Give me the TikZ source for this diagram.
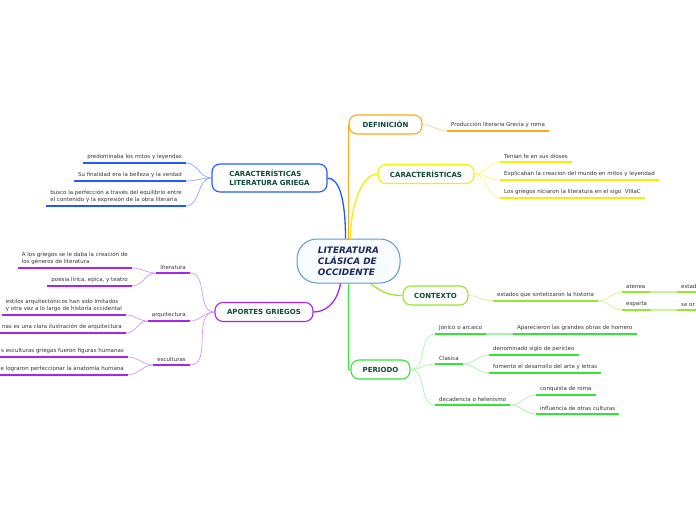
\documentclass[tikz,border=0pt]{standalone}
\usepackage{fontspec}
\setmainfont{DejaVu Sans}
\usepackage{tikz}
\usetikzlibrary{positioning}
\definecolor{azulc}{HTML}{5B9BD5}
\definecolor{fondoc}{HTML}{F8FBFF}
\definecolor{navy}{HTML}{1B2A5C}
\definecolor{verdeosc}{HTML}{0D4A3A}
\definecolor{gris}{HTML}{333333}
\definecolor{azul}{HTML}{1F5BFF}
\definecolor{azulcl}{HTML}{8FA8FF}
\definecolor{naranja}{HTML}{FFA71A}
\definecolor{naranjacl}{HTML}{FFD08A}
\definecolor{amarillo}{HTML}{F2F200}
\definecolor{amarillocl}{HTML}{F7F77A}
\definecolor{lima}{HTML}{99E62E}
\definecolor{limacl}{HTML}{CCF29A}
\definecolor{verde}{HTML}{33E633}
\definecolor{verdecl}{HTML}{A8F2A8}
\definecolor{morado}{HTML}{A626F0}
\definecolor{moradocl}{HTML}{D098FF}

\begin{document}
\begin{tikzpicture}[x=1pt,y=-1pt,
  central/.style={draw=azulc,fill=fondoc,line width=1pt,rounded corners=20pt,minimum width=103pt,minimum height=44pt,align=left,text=navy,font=\fontsize{8.9}{11}\selectfont\bfseries\itshape},
  tema/.style={draw=#1,fill=white,line width=1.1pt,rounded corners=8pt,minimum height=19pt,text=verdeosc,font=\fontsize{7}{8.5}\selectfont\bfseries},
  hoja/.style={inner xsep=4pt,inner ysep=3pt,align=left,text=gris,font=\fontsize{5.5}{7}\selectfont},
  tronco/.style={draw=#1,line width=1.3pt},
  rama/.style={draw=#1,line width=0.7pt},
  sub/.style={draw=#1,line width=1.6pt}]
  \useasboundingbox (0,0) rectangle (696,520);
  \clip (0,0) rectangle (696,520);

  % nodos principales
  \node[central] (lit) at (348.5,261) {LITERATURA\\CLÁSICA DE\\OCCIDENTE};
  \node[tema=azul,minimum width=115pt,minimum height=28pt,align=left] (carlit) at (269.5,178) {CARACTERÍSTICAS\\LITERATURA GRIEGA};
  \node[tema=naranja,minimum width=73pt] (defin) at (385.5,124.5) {DEFINICIÓN};
  \node[tema=amarillo,minimum width=96pt] (carac) at (426,174) {CARACTERÍSTICAS};
  \node[tema=lima,minimum width=65pt] (contexto) at (435.5,295.5) {CONTEXTO};
  \node[tema=verde,minimum width=59pt] (periodo) at (380.5,369.5) {PERIODO};
  \node[tema=morado,minimum width=98pt] (aportes) at (264,312) {APORTES GRIEGOS};

  % ramas desde el centro
  \draw[tronco=azul] (carlit.east) .. controls +(12,0) and +(0,-38) .. ([xshift=-3pt]lit.north);
  \draw[tronco=naranja] (lit.north) |- (defin.west);
  \draw[tronco=amarillo] ([xshift=2pt]lit.north) .. controls +(0,-32) and +(-16,0) .. (carac.west);
  \draw[tronco=lima] ([xshift=22pt]lit.south) .. controls +(10,8) and +(-14,0) .. (contexto.west);
  \draw[tronco=verde] (lit.south) |- (periodo.west);
  \draw[tronco=morado] ([xshift=-8pt]lit.south) .. controls +(-4,22) and +(10,0) .. (aportes.east);

  % caracteristicas literatura griega
  \node[hoja,anchor=south east] (b1) at (186,163) {predominaba los mitos y leyendas};
  \node[hoja,anchor=south east] (b2) at (186,181) {Su finalidad era la belleza y la verdad};
  \node[hoja,anchor=south east] (b3) at (186,206) {busco la perfección a través del equilibrio entre\\el contenido y la expresión de la obra literaria};
  \foreach \n in {b1,b2,b3} {
    \draw[rama=azulcl] (carlit.west) to[out=180,in=0] (\n.south east);
    \draw[sub=azul] (\n.south west) -- (\n.south east);
  }

  % definicion
  \node[hoja,anchor=south west] (d1) at (447,131) {Producción literaria Grecia y roma};
  \draw[rama=naranjacl] (defin.east) to[out=0,in=180] (d1.south west);
  \draw[sub=naranja] (d1.south west) -- (d1.south east);

  % caracteristicas
  \node[hoja,anchor=south west] (y1) at (500,162) {Tenian fe en sus dioses};
  \node[hoja,anchor=south west] (y2) at (500,180) {Explicaban la creacion del mundo en mitos y leyendad};
  \node[hoja,anchor=south west] (y3) at (500,198) {Los griegos niciaron la literatura en el sigo\ \ VIIIaC};
  \foreach \n in {y1,y2,y3} {
    \draw[rama=amarillocl] (carac.east) to[out=0,in=180] (\n.south west);
    \draw[sub=amarillo] (\n.south west) -- (\n.south east);
  }

  % contexto
  \node[hoja,anchor=south west] (c1) at (493,301) {estados que sintetizaron la historia};
  \node[hoja,anchor=south west] (c2) at (622,292) {atenea};
  \node[hoja,anchor=south west] (c3) at (622,310) {esparta};
  \node[hoja,anchor=south west] (c4) at (677,292) {estado};
  \node[hoja,anchor=south west] (c5) at (677,310) {se or};
  \draw[rama=limacl] (contexto.east) to[out=0,in=180] (c1.south west);
  \draw[rama=limacl] (c1.south east) to[out=0,in=180] (c2.south west);
  \draw[rama=limacl] (c1.south east) to[out=0,in=180] (c3.south west);
  \draw[sub=limacl] (c2.south east) -- (c4.south west);
  \draw[sub=limacl] (c3.south east) -- (c5.south west);
  \foreach \n in {c1,c2,c3,c4,c5}
    \draw[sub=lima] (\n.south west) -- (\n.south east);

  % periodo
  \node[hoja,anchor=south west] (p1) at (435,334) {Jónico o arcaico};
  \node[hoja,anchor=south west] (p1a) at (513,334) {Aparecieron las grandes obras de homero};
  \node[hoja,anchor=south west] (p2) at (435,364) {Clasica};
  \node[hoja,anchor=south west] (p2a) at (489,355) {denominado siglo de pericleo};
  \node[hoja,anchor=south west] (p2b) at (489,373) {fomento el desarrollo del arte y letras};
  \node[hoja,anchor=south west] (p3) at (435,405) {decadencia o helenismo};
  \node[hoja,anchor=south west] (p3a) at (536,395) {conquista de roma};
  \node[hoja,anchor=south west] (p3b) at (536,414) {influencia de otras culturas};
  \foreach \n in {p1,p2,p3}
    \draw[rama=verdecl] (periodo.east) to[out=0,in=180] (\n.south west);
  \draw[sub=verdecl] (p1.south east) -- (p1a.south west);
  \draw[rama=verdecl] (p2.south east) to[out=0,in=180] (p2a.south west);
  \draw[rama=verdecl] (p2.south east) to[out=0,in=180] (p2b.south west);
  \draw[rama=verdecl] (p3.south east) to[out=0,in=180] (p3a.south west);
  \draw[rama=verdecl] (p3.south east) to[out=0,in=180] (p3b.south west);
  \foreach \n in {p1,p1a,p2,p2a,p2b,p3,p3a,p3b}
    \draw[sub=verde] (\n.south west) -- (\n.south east);

  % aportes griegos
  \node[hoja,anchor=south east] (a1) at (190,273) {literatura};
  \node[hoja,anchor=south east] (a2) at (190,321) {arquitectura};
  \node[hoja,anchor=south east] (a3) at (190,365) {esculturas};
  \node[hoja,anchor=south east] (l1) at (132,268) {A los griegos se le daba la creación de\\los géneros de literatura};
  \node[hoja,anchor=south east] (l2) at (132,286) {poesia lirica, epica, y teatro};
  \node[hoja,anchor=south east] (r1) at (126,315) {estilos arquitectónicos han sido imitados\\y otra vez a lo largo de historia occidental};
  \node[hoja,anchor=south east] (r2) at (126,333) {nas es una clara ilustración de arquitectura};
  \node[hoja,anchor=south east] (e1) at (128,357) {s esculturas griegas fueron figuras humanas};
  \node[hoja,anchor=south east] (e2) at (128,375) {e lograron perfeccionar la anatomía humana};
  \foreach \n in {a1,a2,a3}
    \draw[rama=moradocl] (aportes.west) to[out=180,in=0] (\n.south east);
  \draw[rama=moradocl] (a1.south west) to[out=180,in=0] (l1.south east);
  \draw[rama=moradocl] (a1.south west) to[out=180,in=0] (l2.south east);
  \draw[rama=moradocl] (a2.south west) to[out=180,in=0] (r1.south east);
  \draw[rama=moradocl] (a2.south west) to[out=180,in=0] (r2.south east);
  \draw[rama=moradocl] (a3.south west) to[out=180,in=0] (e1.south east);
  \draw[rama=moradocl] (a3.south west) to[out=180,in=0] (e2.south east);
  \foreach \n in {a1,a2,a3,l1,l2,r1,r2,e1,e2}
    \draw[sub=morado] (\n.south west) -- (\n.south east);
\end{tikzpicture}
\end{document}
